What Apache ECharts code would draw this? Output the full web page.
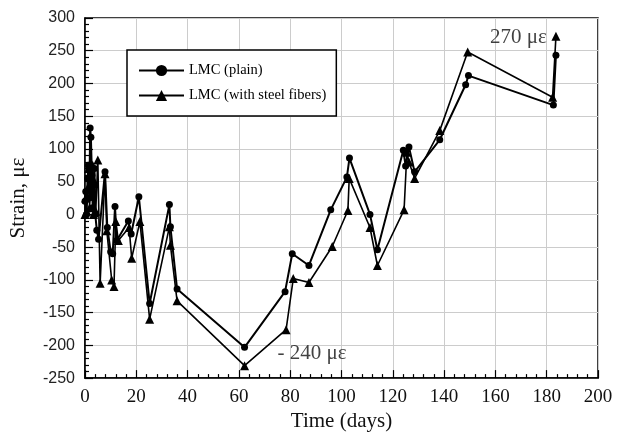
<!DOCTYPE html>
<html>
<head>
<meta charset="utf-8">
<script src="https://cdn.jsdelivr.net/npm/echarts@6/dist/echarts.min.js"></script>
<style>html,body{margin:0;padding:0;background:#fff}#c{width:627px;height:437px}</style>
</head>
<body>
<div id="c"></div>
<script>
var seriesNames = ['LMC (plain)', 'LMC (with steel fibers)'];
var plainDays = [0,0.3,0.6,1,1.3,1.7,2,2.3,2.7,3,3.3,3.7,4,4.6,5.3,7.8,8.7,10,10.8,11.7,12.4,16.9,18,21,25.2,32.9,33.3,35.9,62.2,78,80.8,87.3,95.8,102.1,103.1,111.1,114,124.1,125,126.3,128.5,138.3,148.4,149.5,182.6,183.6];
var plainStrain = [20,35,0,55,75,25,132,118,60,10,45,70,0,-24,-38,65,-20,-57,-60,12,-40,-10,-30,27,-136,15,-19,-114,-203,-118,-60,-78,7,57,86,0,-54,98,74,103,65,114,198,212,167,243];
var fiberDays = [0,0.3,0.6,1,1.4,1.8,2.2,2.6,3,3.3,3.7,4.2,5,5.9,7.8,8.5,10.4,11.3,12,13,17.2,18.2,21.4,25.2,32.9,33.3,35.9,62.2,78.4,81.2,87.3,96.4,102.5,103,111.1,114,124.4,125.5,126.3,128.5,138.3,149.2,182.3,183.6];
var fiberStrain = [0,25,5,40,70,10,60,30,75,0,50,5,83,-105,62,-25,-100,-110,-11,-40,-20,-67,-11,-160,-19,-47,-132,-231,-176,-98,-104,-49,6,55,-20,-78,7,95,80,55,128,248,179,272];
var annotations = [[169, 271, '270 με'], [88.5, -212, '- 240 με']];

function pairs(xs, ys){ return xs.map(function(x,i){ return [x, ys[i]]; }); }

var chart = echarts.init(document.getElementById('c'));
var serif = '"Liberation Serif", "Times New Roman", serif';
var sans = '"Liberation Sans", Arial, sans-serif';
chart.setOption({
  animation: false,
  backgroundColor: '#fff',
  grid: { left: 83, right: 29, top: 18, bottom: 54, show: true, borderColor: '#000', borderWidth: 1.5 },
  legend: {
    data: seriesNames,
    orient: 'vertical',
    left: 127, top: 50,
    padding: [13, 10, 13, 11],
    itemWidth: 45, itemHeight: 14, itemGap: 10,
    borderColor: '#000', borderWidth: 1.5,
    backgroundColor: '#fff',
    textStyle: { fontFamily: serif, fontSize: 14.5, color: '#000' }
  },
  xAxis: {
    type: 'value', min: 0, max: 200, interval: 20,
    name: 'Time (days)', nameLocation: 'middle', nameGap: 30,
    nameTextStyle: { fontFamily: serif, fontSize: 21, color: '#111' },
    axisLine: { show: true, onZero: false, lineStyle: { color: '#000', width: 1.5 } },
    axisTick: { show: true, inside: true, length: 8, lineStyle: { color: '#000', width: 1.2 } },
    minorTick: { show: true, splitNumber: 5, length: 4, lineStyle: { color: '#000', width: 1.2 } },
    axisLabel: { fontFamily: serif, fontSize: 19, color: '#111', margin: 9 },
    splitLine: { show: true, lineStyle: { color: '#cccccc', width: 1 } }
  },
  yAxis: {
    type: 'value', min: -250, max: 300, interval: 50,
    name: 'Strain, με', nameLocation: 'middle', nameGap: 56,
    nameTextStyle: { fontFamily: serif, fontSize: 21, color: '#111' },
    axisLine: { show: true, onZero: false, lineStyle: { color: '#000', width: 1.5 } },
    axisTick: { show: true, inside: true, length: 8, lineStyle: { color: '#000', width: 1.2 } },
    minorTick: { show: true, splitNumber: 5, length: 4, lineStyle: { color: '#000', width: 1.2 } },
    axisLabel: { fontFamily: sans, fontSize: 16, color: '#222', margin: 10 },
    splitLine: { show: true, lineStyle: { color: '#cccccc', width: 1 } }
  },
  series: [
    {
      name: seriesNames[0], type: 'line', data: pairs(plainDays, plainStrain),
      symbol: 'circle', symbolSize: 7, showAllSymbol: true,
      lineStyle: { color: '#000', width: 2 }, itemStyle: { color: '#000' }
    },
    {
      name: seriesNames[1], type: 'line', data: pairs(fiberDays, fiberStrain),
      symbol: 'triangle', symbolSize: 9, showAllSymbol: true,
      lineStyle: { color: '#000', width: 1.6 }, itemStyle: { color: '#000' }
    },
    {
      name: 'notes', type: 'scatter', symbolSize: 0, silent: true,
      data: annotations.map(function(a){ return { value: [a[0], a[1]], label: { formatter: a[2] } }; }),
      label: { show: true, position: 'inside', fontFamily: serif, fontSize: 21, color: '#111' }
    }
  ]
});
</script>
</body>
</html>
